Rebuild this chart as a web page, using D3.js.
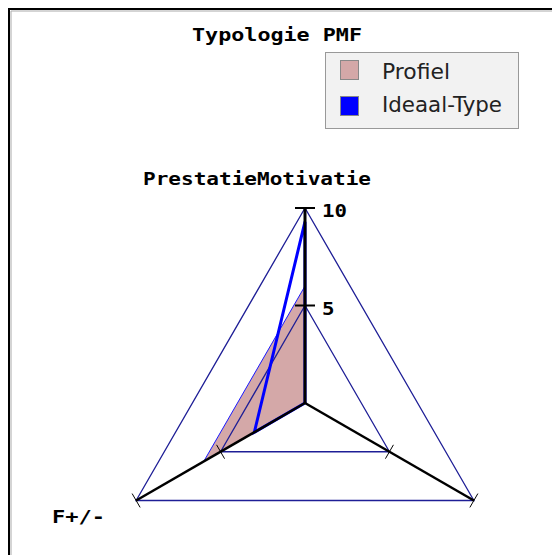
<!DOCTYPE html>
<html lang="nl">
<head>
  <meta charset="UTF-8">
  <title>Typologie PMF</title>
  <script src="https://cdn.jsdelivr.net/npm/d3@7"></script>
  <style>
    body { margin: 0; background: #fff; }
    svg { display: block; }
  </style>
</head>
<body>
<svg></svg>
<script>
  // data
  const axes = ['PrestatieMotivatie', 'F+/-', '']
  const profiel = [6, 6, 0]
  const ideaal = [9.3, 3, 0]
  const ticks = [5, 10]
  const series = ['Profiel', 'Ideaal-Type']

  const width = 552, height = 555
  const cx = 305, cy = 403

  const svg = d3.select('svg')
      .attr('width', width)
      .attr('height', height)

  // frame
  svg.append('rect')
      .attr('x', 9).attr('y', 9)
      .attr('width', width).attr('height', height)
      .attr('fill', 'none')
      .attr('stroke', '#000')
      .attr('stroke-width', 2)
  svg.append('path')
      .attr('d', `M11,${height} V11 H${width}`)
      .attr('fill', 'none')
      .attr('stroke', '#aaa')
      .attr('stroke-width', 1)

  const r = d3.scaleLinear().domain([0, 10]).range([0, 195])
  const angle = i => (-90 - 120 * i) * Math.PI / 180
  const pt = (v, i) => [cx + r(v) * Math.cos(angle(i)), cy + r(v) * Math.sin(angle(i))]

  const line = d3.line().curve(d3.curveLinearClosed)

  // profiel fill
  svg.append('path')
      .attr('d', line(profiel.map(pt)))
      .attr('fill', '#d4a8a8')
      .attr('stroke', '#1a1aff')
      .attr('stroke-width', 1)

  // grid
  ticks.forEach(t => {
    svg.append('path')
        .attr('d', line(axes.map((a, i) => pt(t, i))))
        .attr('fill', 'none')
        .attr('stroke', '#1e1e96')
        .attr('stroke-width', 1.3)
  })

  // ideaal-type
  svg.append('path')
      .attr('d', line(ideaal.map(pt)))
      .attr('fill', 'none')
      .attr('stroke', '#0000ff')
      .attr('stroke-width', 3)

  // axes
  axes.forEach((a, i) => {
    const [x2, y2] = pt(10, i)
    svg.append('line')
        .attr('x1', cx).attr('y1', cy)
        .attr('x2', x2).attr('y2', y2)
        .attr('stroke', '#000')
        .attr('stroke-width', i === 0 ? 3 : 2.5)
    ticks.forEach(t => {
      const [tx, ty] = pt(t, i)
      const p = angle(i) + Math.PI / 2
      const len = i === 0 ? 10 : 8
      svg.append('line')
          .attr('x1', tx - len * Math.cos(p)).attr('y1', ty - len * Math.sin(p))
          .attr('x2', tx + len * Math.cos(p)).attr('y2', ty + len * Math.sin(p))
          .attr('stroke', '#000')
          .attr('stroke-width', i === 0 ? 2 : 1)
    })
  })

  const bold = g => g
      .attr('font-family', '"DejaVu Sans Mono", monospace')
      .attr('font-weight', 'bold')
      .attr('fill', '#000')

  // tick labels on first axis
  ticks.forEach(t => {
    const s = String(t)
    svg.append('text')
        .attr('x', cx + 17)
        .attr('y', pt(t, 0)[1] + 9)
        .attr('font-size', 18)
        .attr('textLength', s.length * 12.5)
        .attr('lengthAdjust', 'spacingAndGlyphs')
        .call(bold)
        .text(s)
  })

  // axis titles
  svg.append('text')
      .attr('x', 257).attr('y', 185)
      .attr('text-anchor', 'middle')
      .attr('font-size', 18)
      .attr('textLength', 228)
      .attr('lengthAdjust', 'spacingAndGlyphs')
      .call(bold)
      .text(axes[0])
  svg.append('text')
      .attr('x', 52).attr('y', 523)
      .attr('font-size', 18)
      .attr('textLength', 53)
      .attr('lengthAdjust', 'spacingAndGlyphs')
      .call(bold)
      .text(axes[1])

  // title
  svg.append('text')
      .attr('x', 277).attr('y', 41)
      .attr('text-anchor', 'middle')
      .attr('font-size', 18)
      .attr('textLength', 170)
      .attr('lengthAdjust', 'spacingAndGlyphs')
      .call(bold)
      .text('Typologie PMF')

  // legend
  const legend = svg.append('g')
  legend.append('rect')
      .attr('x', 325.5).attr('y', 52.5)
      .attr('width', 193).attr('height', 76)
      .attr('fill', '#f2f2f2')
      .attr('stroke', '#999')
  const colors = ['#d4a8a8', '#0000ff']
  const textLen = [68, 120]
  series.forEach((s, i) => {
    legend.append('rect')
        .attr('x', 340.5).attr('y', 60.5 + i * 36)
        .attr('width', 18).attr('height', 19)
        .attr('fill', colors[i])
        .attr('stroke', '#888')
    legend.append('text')
        .attr('x', 382).attr('y', 79 + i * 33)
        .attr('font-family', '"DejaVu Sans", sans-serif')
        .attr('font-size', 21)
        .attr('textLength', textLen[i])
        .attr('lengthAdjust', 'spacingAndGlyphs')
        .attr('fill', '#222')
        .text(s)
  })
</script>
</body>
</html>
